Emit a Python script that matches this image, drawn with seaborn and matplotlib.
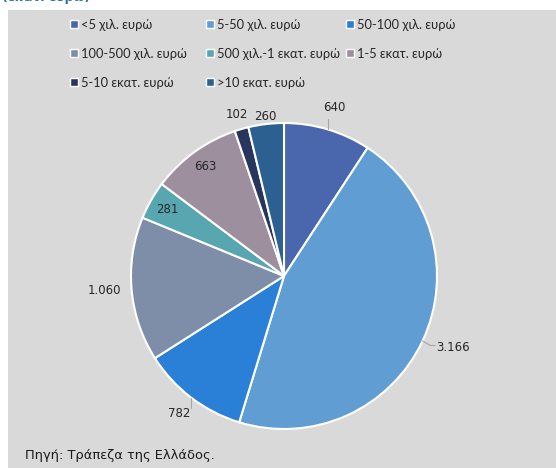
import numpy as np
import seaborn as sns
import matplotlib.pyplot as plt
from matplotlib.lines import Line2D
from matplotlib.patches import Rectangle

# loan amount bands and values (εκατ. ευρώ)
categories = ['<5 χιλ. ευρώ', '5-50 χιλ. ευρώ', '50-100 χιλ. ευρώ',
              '100-500 χιλ. ευρώ', '500 χιλ.-1 εκατ. ευρώ', '1-5 εκατ. ευρώ',
              '5-10 εκατ. ευρώ', '>10 εκατ. ευρώ']
values = [640, 3166, 782, 1060, 281, 663, 102, 260]
colors = ['#4A67AD', '#5F9DD3', '#2A7FD6', '#7E8DA8',
          '#58A6B0', '#9E8F9F', '#28365E', '#2B6090']

sns.set_theme(style='white')
plt.rcParams['font.family'] = ['DejaVu Sans']

fig = plt.figure(figsize=(5.56, 4.68), dpi=100)
fig.patch.set_facecolor('white')
# gray panel
fig.patches.append(Rectangle((8 / 556, 0), 1, (468 - 10) / 468, transform=fig.transFigure,
                             facecolor='#D9D9D9', edgecolor='none', zorder=-10))

ax = fig.add_axes([131 / 556, 39 / 468, 306 / 556, 306 / 468])
ax.set_facecolor('none')
ax.set_zorder(2)
wedges, _ = ax.pie(values, colors=colors, startangle=90, counterclock=False,
                   wedgeprops=dict(edgecolor='white', linewidth=1.5))
ax.set_xlim(-1, 1)
ax.set_ylim(-1, 1)
ax.set_aspect('equal')
ax.axis('off')

# label placement per wedge (radius, horizontal alignment, leader line)
lab_r = [1.15, 1.10, 1.13, 1.07, 0.88, 0.88, 1.10, 1.05]
lab_ha = ['center', 'left', 'center', 'right', 'center', 'center', 'center', 'center']
leader = [True, True, True, False, False, False, False, False]

for w, v, r, ha, ld in zip(wedges, values, lab_r, lab_ha, leader):
    mid = np.deg2rad((w.theta1 + w.theta2) / 2)
    cx, cy = np.cos(mid), np.sin(mid)
    txt = f'{v:,}'.replace(',', '.')
    ax.text(r * cx, r * cy, txt, ha=ha, va='center', fontsize=8.5, color='#262626',
            clip_on=False)
    if ld:
        if ha == 'left':
            ax.plot([cx, cx + 0.05, r * cx - 0.01], [cy, cy - 0.03, cy - 0.03],
                    color='#A6A6A6', lw=0.8, clip_on=False)
        else:
            ax.plot([cx, cx], [cy, cy + np.sign(cy) * 0.07],
                    color='#A6A6A6', lw=0.8, clip_on=False)

# legend, three columns
col_x = [69 / 556, 205 / 556, 345 / 556]
for c in range(3):
    idx = [i for i in range(len(categories)) if i % 3 == c]
    handles = [Line2D([], [], marker='s', linestyle='none', markersize=6,
                      markerfacecolor=colors[i], markeredgecolor='white',
                      markeredgewidth=1) for i in idx]
    leg = fig.legend(handles, [categories[i] for i in idx], loc='upper left',
                     bbox_to_anchor=(col_x[c], 1 - 19 / 468), frameon=False,
                     handlelength=0.8, handletextpad=0.15,
                     labelspacing=1.3, borderpad=0, borderaxespad=0,
                     prop=dict(family=['Lato', 'DejaVu Sans'], size=9.3))
    for t in leg.get_texts():
        t.set_color('#262626')

fig.text(2 / 556, 1 + 2 / 468, '(εκατ. ευρώ)', color='#2E6DB4', fontsize=9,
         fontweight='bold', ha='left', va='center')
fig.text(25 / 556, 1 - 455 / 468, 'Πηγή: Τράπεζα της Ελλάδος.', fontsize=9.4,
         color='#1A1A1A', ha='left', va='center')

fig.savefig('out.png', dpi=100, facecolor=fig.get_facecolor())
